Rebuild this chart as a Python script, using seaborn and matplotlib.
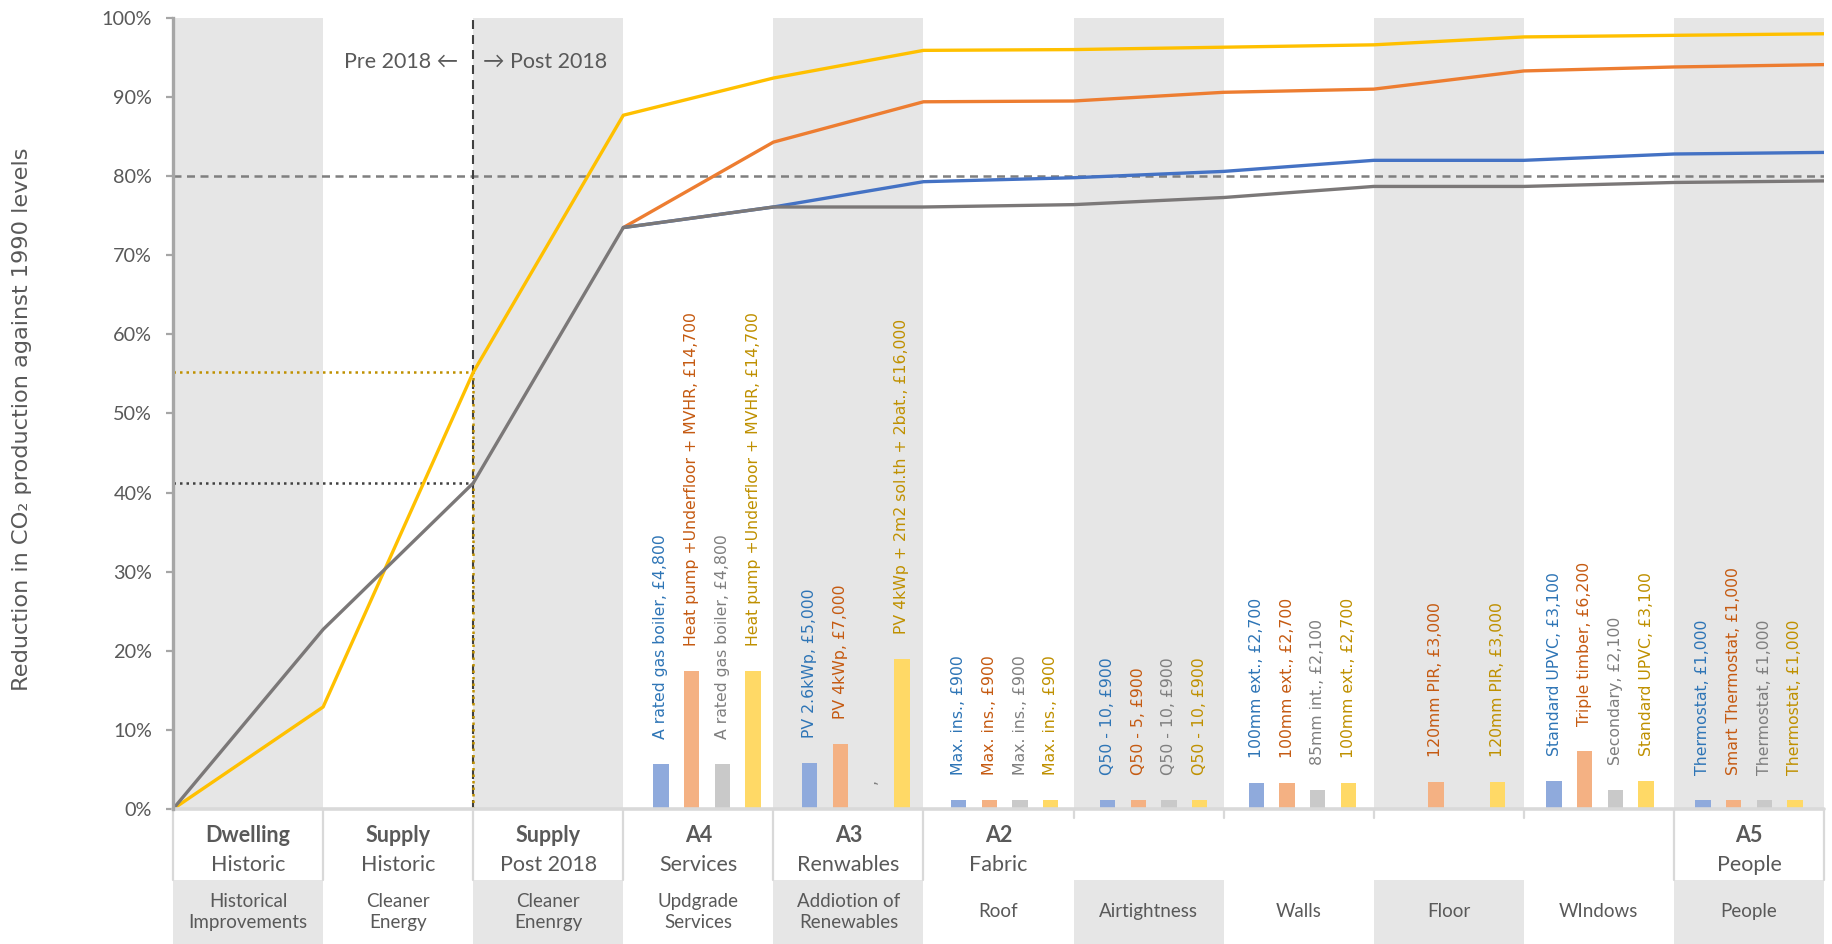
import numpy as np
import pandas as pd
import matplotlib
matplotlib.use("Agg")
import matplotlib.pyplot as plt
import matplotlib.transforms as mtransforms
from matplotlib.patches import Rectangle
import seaborn as sns

nan = np.nan

# ---------------------------------------------------------------- data
# cumulative CO2 reduction (%) at the end of each stage; step 0 = 1990 baseline
step = list(range(12))
blue_cum   = [nan, nan, nan, 73.5, 76.1, 79.3, 79.8, 80.6, 82.0, 82.0, 82.8, 83.0]
orange_cum = [nan, nan, nan, 73.5, 84.3, 89.4, 89.5, 90.6, 91.0, 93.3, 93.8, 94.1]
grey_cum   = [0.0, 22.7, 41.2, 73.5, 76.1, 76.1, 76.4, 77.3, 78.7, 78.7, 79.2, 79.4]
yellow_cum = [0.0, 12.9, 55.2, 87.7, 92.4, 95.9, 96.0, 96.3, 96.6, 97.6, 97.8, 98.0]

target_level = 80.0
pre2018_grey = 41.2
pre2018_yellow = 55.2

# stage headings
stage_bold = ["Dwelling", "Supply", "Supply", "A4", "A3", "A2", "", "", "", "", "A5"]
stage_sub = ["Historic", "Historic", "Post 2018", "Services", "Renwables", "Fabric",
             "", "", "", "", "People"]
stage_detail = ["Historical\nImprovements", "Cleaner\nEnergy", "Cleaner\nEnenrgy",
                "Updgrade\nServices", "Addiotion of\nRenewables", "Roof", "Airtightness",
                "Walls", "Floor", "WIndows", "People"]

# individual measures (stage columns 3..10), saving in % and label text
measure_cols = [3, 4, 5, 6, 7, 8, 9, 10]
blue_bar   = [5.7, 5.8, 1.1, 1.1, 3.3, nan, 3.6, 1.15]
orange_bar = [17.4, 8.2, 1.1, 1.1, 3.3, 3.45, 7.3, 1.15]
grey_bar   = [5.7, 0.0, 1.1, 1.1, 2.4, nan, 2.4, 1.15]
yellow_bar = [17.4, 18.9, 1.1, 1.1, 3.3, 3.45, 3.6, 1.15]

blue_lab = ["A rated gas boiler, £4,800", "PV 2.6kWp, £5,000", "Max. ins., £900",
            "Q50 - 10, £900", "100mm ext., £2,700", None, "Standard UPVC, £3,100",
            "Thermostat, £1,000"]
orange_lab = ["Heat pump +Underfloor + MVHR, £14,700", "PV 4kWp, £7,000", "Max. ins., £900",
              "Q50 - 5, £900", "100mm ext., £2,700", "120mm PIR, £3,000",
              "Triple timber, £6,200", "Smart Thermostat, £1,000"]
grey_lab = ["A rated gas boiler, £4,800", ",", "Max. ins., £900", "Q50 - 10, £900",
            "85mm int., £2,100", None, "Secondary, £2,100", "Thermostat, £1,000"]
yellow_lab = ["Heat pump +Underfloor + MVHR, £14,700", "PV 4kWp + 2m2 sol.th + 2bat., £16,000",
              "Max. ins., £900", "Q50 - 10, £900", "100mm ext., £2,700", "120mm PIR, £3,000",
              "Standard UPVC, £3,100", "Thermostat, £1,000"]

# ---------------------------------------------------------------- style
sns.set_theme(style="white")
plt.rcParams["font.family"] = ["Lato", "DejaVu Sans"]

TXT = "#595959"
BAND = "#E6E6E6"
line_col = {"Scenario 1": "#4472C4", "Scenario 2": "#ED7D31",
            "Scenario 3": "#7B7878", "Scenario 4": "#FFC000"}
bar_col = ["#8FAADC", "#F4B183", "#C9C9C9", "#FFD966"]
lab_col = ["#2E75B6", "#C55A11", "#7F7F7F", "#BF9000"]

fig = plt.figure(figsize=(18.33, 9.44), dpi=100)
ax = fig.add_axes([0.0944, 0.143, 0.9007, 0.838])
n_cols = len(stage_detail)
ax.set_xlim(0, n_cols)
ax.set_ylim(0, 100)

# alternating background bands
for i in range(0, n_cols, 2):
    ax.axvspan(i, i + 1, color=BAND, lw=0, zorder=0)

# ---------------------------------------------------------------- bars
bar_series = [blue_bar, orange_bar, grey_bar, yellow_bar]
lab_series = [blue_lab, orange_lab, grey_lab, yellow_lab]
slot = 0.2045
bar_w = 0.102
for k, (vals, labs) in enumerate(zip(bar_series, lab_series)):
    for col, v, lab in zip(measure_cols, vals, labs):
        xc = 0.0866 + (col + 0.5) * 0.9917 + (k - 1.5) * slot
        if not np.isnan(v) and v > 0:
            ax.bar(xc, v, width=bar_w, color=bar_col[k], lw=0, zorder=2)
        if lab is not None:
            ax.annotate(lab, xy=(xc, 0 if np.isnan(v) else v), xytext=(0, 18),
                        textcoords="offset points", rotation=90, ha="center", va="bottom",
                        color=lab_col[k], fontsize=11.3, family="DejaVu Sans", zorder=4)

# ---------------------------------------------------------------- reference lines
ax.axhline(target_level, color="#7F7F7F", lw=1.8, dashes=(3.2, 2.2), zorder=3)
ax.plot([2, 2], [0, 100], color="#404040", lw=1.5, dashes=(4.3, 2.9), zorder=3)
ax.plot([0, 2], [pre2018_yellow, pre2018_yellow], color="#BF9000", lw=1.8,
        dashes=(1, 1.6), zorder=3)
ax.plot([2, 2], [0, pre2018_yellow], color="#BF9000", lw=1.8, dashes=(1, 1.6), zorder=3)
ax.plot([0, 2], [pre2018_grey, pre2018_grey], color="#404040", lw=1.8,
        dashes=(1, 1.6), zorder=3)

# ---------------------------------------------------------------- cumulative lines
lines = pd.DataFrame({
    "step": step * 4,
    "reduction": blue_cum + orange_cum + grey_cum + yellow_cum,
    "scenario": (["Scenario 1"] * 12 + ["Scenario 2"] * 12 +
                 ["Scenario 3"] * 12 + ["Scenario 4"] * 12),
}).dropna()
sns.lineplot(data=lines, x="step", y="reduction", hue="scenario",
             hue_order=["Scenario 4", "Scenario 2", "Scenario 1", "Scenario 3"],
             palette=line_col, linewidth=2.4, legend=False, estimator=None,
             ax=ax, zorder=5)

# ---------------------------------------------------------------- annotations
ax.text(2 - 0.1, 94.4, "Pre 2018 \u2190", ha="right", va="center", color=TXT, fontsize=15.5)
ax.text(2 + 0.065, 94.4, "\u2192 Post 2018", ha="left", va="center", color=TXT, fontsize=15.5)

# ---------------------------------------------------------------- axes styling
for s in ["top", "right", "bottom"]:
    ax.spines[s].set_visible(False)
ax.spines["left"].set_color("#A6A6A6")
ax.spines["left"].set_linewidth(2.4)
ax.spines["left"].set_zorder(6)
ax.axhline(0, color="#D9D9D9", lw=2.6, clip_on=False, zorder=6)

ax.set_yticks(range(0, 101, 10))
ax.set_yticklabels([f"{v}%" for v in range(0, 101, 10)])
ax.set_xticks([])
ax.tick_params(axis="y", direction="out", length=5, width=1.6, color="#A6A6A6",
               labelsize=14.3, labelcolor=TXT, pad=10, left=True)
ax.set_xlabel("")
ax.set_ylabel("")

fig.text(22 / 1833, 0.556, "Reduction in CO\u2082 production against 1990 levels",
         rotation=90, rotation_mode="anchor", ha="center", va="center", color=TXT,
         fontsize=16.2, family="DejaVu Sans")

# ---------------------------------------------------------------- category header rows
tr = mtransforms.blended_transform_factory(ax.transData, ax.transAxes)
row1_bottom = -0.0898
row2_bottom = -0.1707
for i in range(n_cols):
    if i % 2 == 0:
        ax.add_patch(Rectangle((i, row2_bottom), 1, row1_bottom - row2_bottom,
                               transform=tr, color=BAND, lw=0, clip_on=False))
    ax.text(i + 0.5, -0.130, stage_detail[i], transform=tr, ha="center", va="center",
            color=TXT, fontsize=13.5, linespacing=1.25)
    if stage_bold[i]:
        ax.text(i + 0.5, -0.0329, stage_bold[i], transform=tr, ha="center", va="center",
                color=TXT, fontsize=15.5, fontweight="bold")
        ax.text(i + 0.5, -0.0708, stage_sub[i], transform=tr, ha="center", va="center",
                color=TXT, fontsize=15.5)

for b in range(n_cols + 1):
    low = row1_bottom if b in (0, 1, 2, 3, 4, 5, 10, 11) else -0.011
    ax.plot([b, b], [0, low], transform=tr, color="#D9D9D9", lw=1.6, clip_on=False,
            zorder=1)

fig.savefig("out.png", dpi=100)
